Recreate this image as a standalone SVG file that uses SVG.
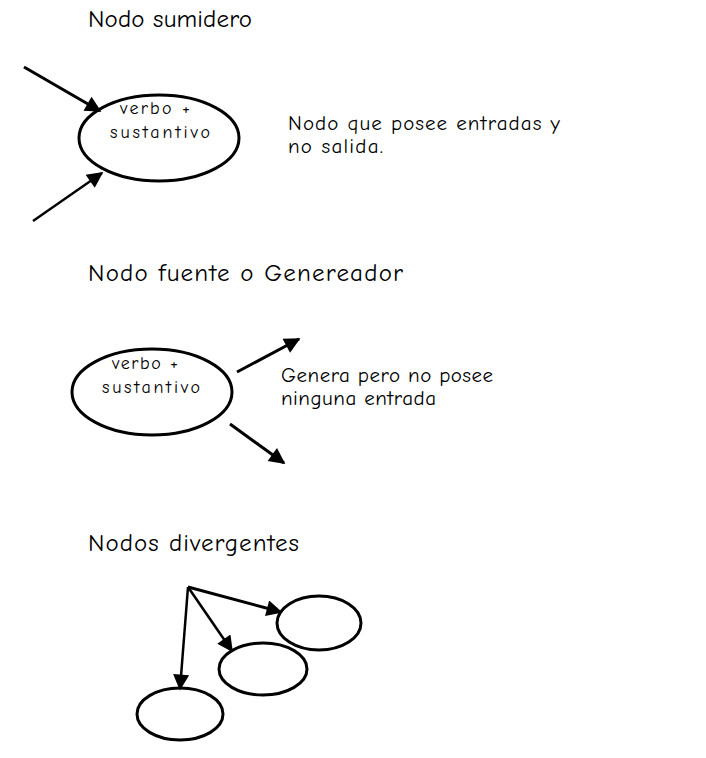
<svg xmlns="http://www.w3.org/2000/svg" width="706" height="758" viewBox="0 0 706 758">
<style>
.t{font-family:"Comic Neue","Liberation Sans",sans-serif;fill:#000}
.h{font-size:25px}
.n{font-size:18px}
.d{font-size:21px}
.node{fill:#fff;stroke:#000;stroke-width:3}
.edge{fill:none;stroke:#000;stroke-width:2.5;marker-end:url(#ah)}
</style>
<defs>
<marker id="ah" viewBox="0 0 10 10" refX="9" refY="5" markerWidth="19" markerHeight="16" markerUnits="userSpaceOnUse" orient="auto">
<path d="M0,0 L10,5 L0,10 Z" fill="#000"/>
</marker>
</defs>
<rect width="706" height="758" fill="#fff"/>
<text class="t h" x="88" y="27" textLength="164" lengthAdjust="spacing">Nodo sumidero</text>
<text class="t h" x="88" y="281" textLength="315" lengthAdjust="spacing">Nodo fuente o Genereador</text>
<text class="t h" x="88" y="551" textLength="211" lengthAdjust="spacing">Nodos divergentes</text>

<g id="sink">
<ellipse class="node" cx="159" cy="138" rx="80" ry="43"/>
<text class="t n" x="120" y="114" textLength="70" lengthAdjust="spacing">verbo +</text>
<text class="t n" x="110" y="138" textLength="100" lengthAdjust="spacing">sustantivo</text>
</g>
<g id="sink-desc">
<text class="t d" x="288" y="130" textLength="272" lengthAdjust="spacing">Nodo que posee entradas y</text>
<text class="t d" x="288" y="153" textLength="95" lengthAdjust="spacing">no salida.</text>
</g>

<g id="source">
<ellipse class="node" cx="152" cy="392" rx="80" ry="43"/>
<text class="t n" x="112" y="369" textLength="66" lengthAdjust="spacing">verbo +</text>
<text class="t n" x="102" y="393" textLength="98" lengthAdjust="spacing">sustantivo</text>
</g>
<g id="source-desc">
<text class="t d" x="281" y="382" textLength="212" lengthAdjust="spacing">Genera pero no posee</text>
<text class="t d" x="281" y="405" textLength="155" lengthAdjust="spacing">ninguna entrada</text>
</g>

<g id="divA"><ellipse class="node" cx="319" cy="623" rx="42" ry="27"/></g>
<g id="divB"><ellipse class="node" cx="263" cy="669" rx="44" ry="26"/></g>
<g id="divC"><ellipse class="node" cx="180" cy="714" rx="43" ry="26"/></g>

<g id="connectors">
<line class="edge" x1="24" y1="67" x2="100" y2="111" style="stroke-width:3"/>
<line class="edge" x1="33" y1="221" x2="102" y2="173"/>
<line class="edge" x1="237" y1="372" x2="299" y2="339" style="stroke-width:3"/>
<line class="edge" x1="230" y1="424" x2="284" y2="463" style="stroke-width:3"/>
<line class="edge" x1="188" y1="587" x2="281" y2="612" style="stroke-width:3"/>
<line class="edge" x1="188" y1="587" x2="232" y2="651"/>
<line class="edge" x1="188" y1="587" x2="180" y2="689"/>
</g>
</svg>
